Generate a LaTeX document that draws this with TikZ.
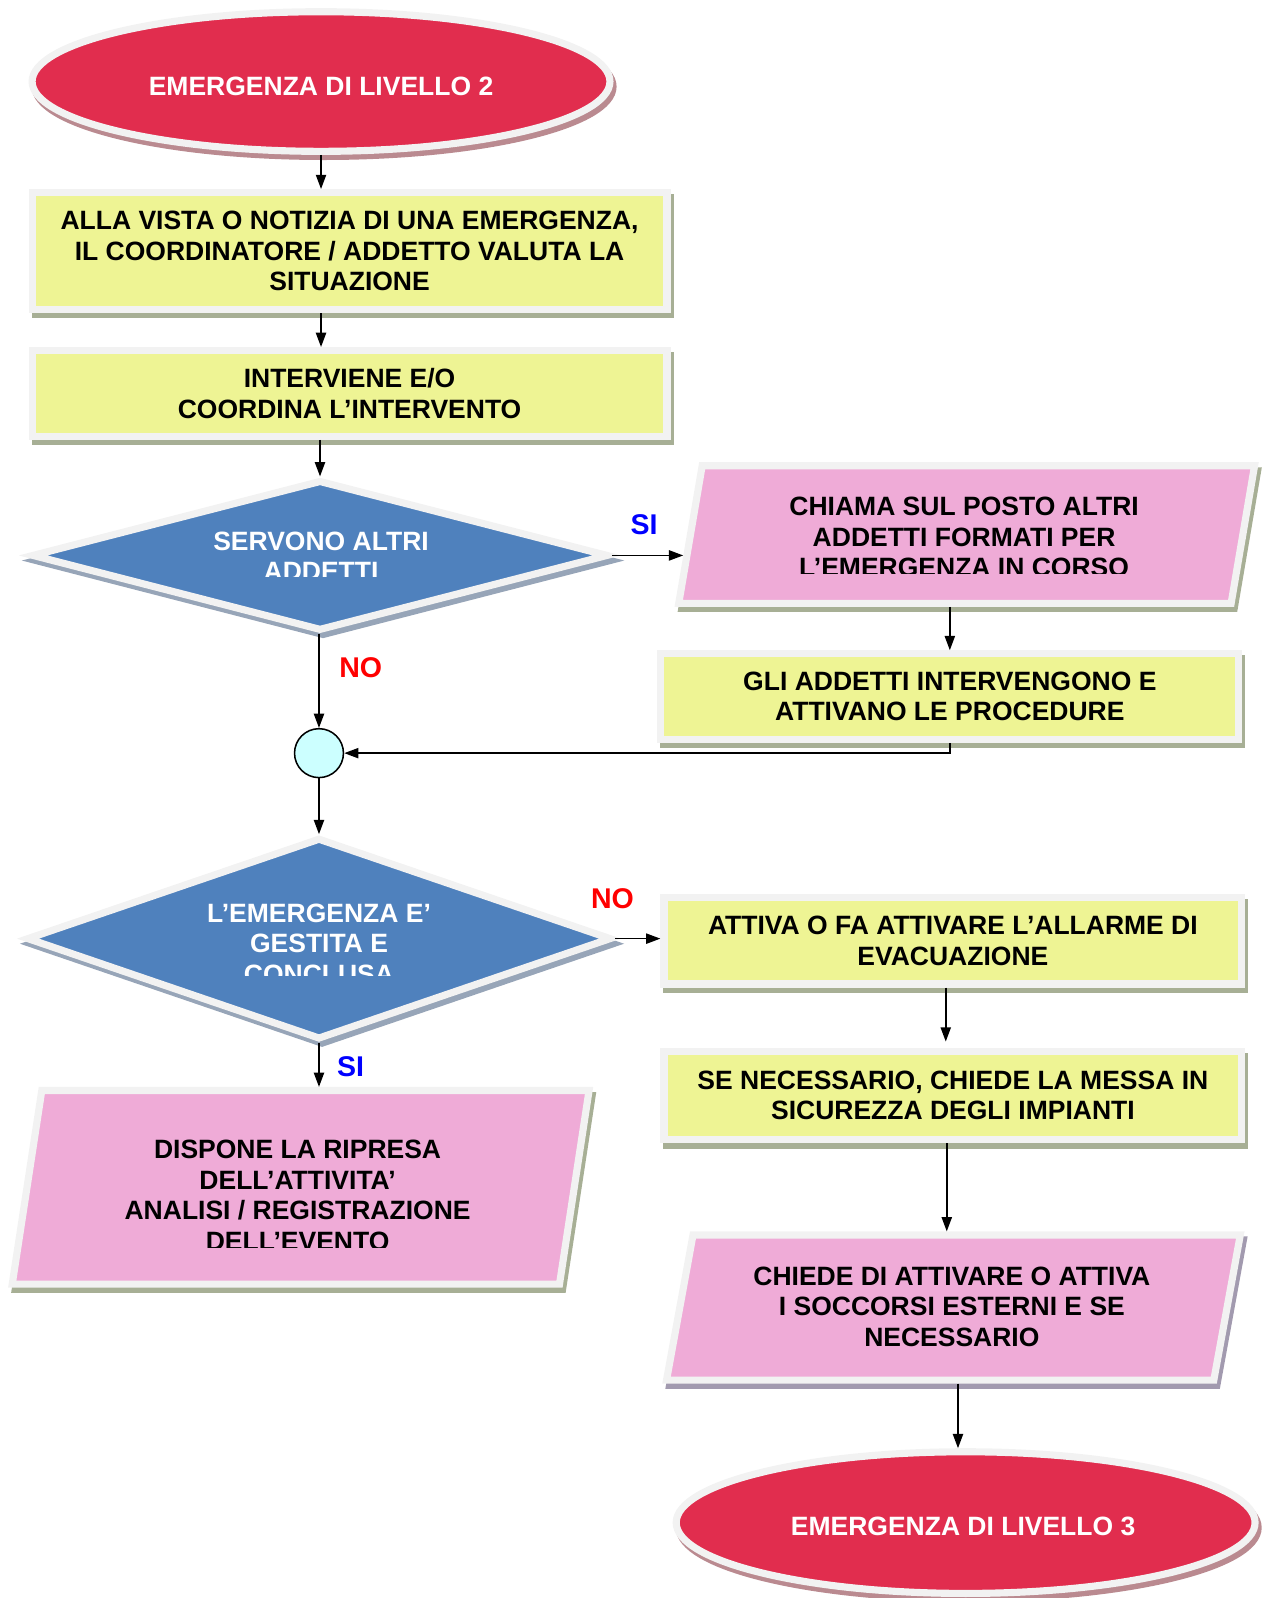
\documentclass[tikz,border=0pt]{standalone}
\usepackage{fontspec}
\setmainfont{Liberation Sans}
\usetikzlibrary{shapes.geometric,shadows,arrows.meta}
\definecolor{redE}{HTML}{E12D4E}
\definecolor{yelB}{HTML}{EEF494}
\definecolor{pinkP}{HTML}{EFABD7}
\definecolor{blueD}{HTML}{4F81BD}
\definecolor{cyanC}{HTML}{CCFFFF}
\definecolor{bord}{HTML}{F2F2F2}
\definecolor{shY}{HTML}{A7AF95}
\definecolor{shR}{HTML}{BA8A90}
\definecolor{shB}{HTML}{97A5B8}
\definecolor{shP}{HTML}{A29AAF}
\definecolor{siblue}{HTML}{0000FF}
\definecolor{nored}{HTML}{FF0000}
\newcommand{\boxfont}{\bfseries\fontsize{13}{15}\selectfont}
\newcommand{\labfont}{\bfseries\fontsize{14}{16}\selectfont}
\begin{document}
\begin{tikzpicture}[x=0.5pt,y=-0.5pt,
  shp/.style={draw=bord, line width=3.5pt, inner sep=0pt, font=\boxfont, align=center},
  shd/.style={drop shadow={shadow xshift=1.5pt, shadow yshift=-2.5pt, opacity=1, fill=#1, draw=#1, line width=3.5pt}},
  ebox/.style={shp, ellipse, fill=redE, shd=shR},
  ybox/.style={shp, rectangle, fill=yelB, shd=shY, minimum width=283.5pt},
  dbox/.style={shp, diamond, fill=blueD, shd=shB},
  pnode/.style={rectangle, inner sep=0pt, outer sep=0pt},
  pshape/.style={draw=bord, line width=3.5pt, fill=pinkP, line join=miter, shd=#1},
  txtw/.style={font=\boxfont, align=center, text=white, inner sep=0pt},
  txtk/.style={font=\boxfont, align=center, text=black, inner sep=0pt},
  arr/.style={draw=black, line width=0.8pt, -{Triangle[length=7pt,width=5pt]}},
  lab/.style={font=\labfont, inner sep=0pt}
]
\useasboundingbox (0,0) rectangle (1242,1568);

% ---- shapes ----
\node[ebox, minimum width=283.5pt, minimum height=68.5pt] (e1) at (315,80) {};
\node[txtw] (e1t) at (315,85) {EMERGENZA DI LIVELLO 2};

\node[ybox, minimum width=311.5pt, minimum height=57.5pt] (b1) at (343,246.5)
  {ALLA VISTA O NOTIZIA DI UNA EMERGENZA,\\IL COORDINATORE / ADDETTO VALUTA LA\\SITUAZIONE};

\node[ybox, minimum width=311.5pt, minimum height=42pt] (b2) at (343,386)
  {INTERVIENE E/O\\COORDINA L’INTERVENTO};

\node[dbox, minimum width=283pt, minimum height=74pt] (d1) at (314,545) {};
\begin{scope}
  \clip (0,450) rectangle (640,566);
  \node[txtw] (d1t) at (315,546) {SERVONO ALTRI\\ADDETTI};
\end{scope}

% parallelogram 1
\node[pnode, minimum width=282.5pt, minimum height=67.5pt] (p1) at (948.5,524.5) {};
\path[pshape=shY] ([xshift=11.5pt]p1.north west) -- (p1.north east)
   -- ([xshift=-11.5pt]p1.south east) -- (p1.south west) -- cycle;
\begin{scope}
  \clip (650,440) rectangle (1242,563);
  \node[txtk] (p1t) at (946,527) {CHIAMA SUL POSTO ALTRI\\ADDETTI FORMATI PER\\L’EMERGENZA IN CORSO};
\end{scope}

\node[ybox, minimum height=42pt] (b3) at (932,683.5)
  {GLI ADDETTI INTERVENGONO E\\ATTIVANO LE PROCEDURE};

\node[circle, draw=black, line width=0.75pt, fill=cyanC, minimum size=24pt, inner sep=0pt] (c1) at (313,739) {};

\node[dbox, minimum width=287pt, minimum height=99pt] (d2) at (313,921) {};
\begin{scope}
  \clip (0,810) rectangle (640,957);
  \node[txtw] (d2t) at (313,926) {L’EMERGENZA E’\\GESTITA E\\CONCLUSA};
\end{scope}

\node[ybox, minimum height=42.5pt] (b4) at (935,923)
  {ATTIVA O FA ATTIVARE L’ALLARME DI\\EVACUAZIONE};

\node[ybox, minimum height=43.5pt] (b5) at (935,1075)
  {SE NECESSARIO, CHIEDE LA MESSA IN\\SICUREZZA DEGLI IMPIANTI};

% parallelogram 2
\node[pnode, minimum width=281.5pt, minimum height=71.25pt] (p2) at (935.5,1283) {};
\path[pshape=shP] ([xshift=13pt]p2.north west) -- (p2.north east)
   -- ([xshift=-13pt]p2.south east) -- (p2.south west) -- cycle;
\node[txtk] (p2t) at (934,1282) {CHIEDE DI ATTIVARE O ATTIVA\\I SOCCORSI ESTERNI E SE\\NECESSARIO};

\node[ebox, minimum width=284pt, minimum height=69.5pt] (e2) at (947.5,1494) {};
\node[txtw] (e2t) at (945,1498) {EMERGENZA DI LIVELLO 3};

% parallelogram 3
\node[pnode, minimum width=283pt, minimum height=95pt] (p3) at (295,1165) {};
\path[pshape=shY] ([xshift=14.5pt]p3.north west) -- (p3.north east)
   -- ([xshift=-14.5pt]p3.south east) -- (p3.south west) -- cycle;
\begin{scope}
  \clip (0,1060) rectangle (640,1224);
  \node[txtk] (p3t) at (292,1173) {DISPONE LA RIPRESA\\DELL’ATTIVITA’\\ANALISI / REGISTRAZIONE\\DELL’EVENTO};
\end{scope}

% ---- labels ----
\node[lab, text=siblue] (si1) at (632,515) {SI};
\node[lab, text=nored] (no1) at (354,655) {NO};
\node[lab, text=nored] (no2) at (601,882) {NO};
\node[lab, text=siblue] (si2) at (344,1047) {SI};

% ---- connectors ----
\draw[arr] (e1.south) -- (e1.south |- b1.north);
\draw[arr] (b1.south -| e1.south) -- (e1.south |- b2.north);
\draw[arr] (b2.south -| d1.north) -- (d1.north);
\draw[arr, shorten >=-2.2pt] (d1.east) -- (d1.east -| p1.west);
\draw[arr, shorten <=1.75pt] (b3.north |- p1.south) -- (b3.north);
\draw[arr] (b3.south) |- (c1.east);
\draw[arr] (c1.north |- d1.south) -- (c1.north);
\draw[arr] (c1.south) -- (c1.south |- d2.north);
\draw[arr] (d2.east) -- (d2.east -| b4.west);
\draw[arr, shorten >=3pt] ([xshift=-3.5pt]b4.south) -- ([xshift=-3.5pt]b4.south |- b5.north);
\draw[arr, shorten >=1.75pt] ([xshift=-3pt]b5.south) -- ([xshift=-3pt]b5.south |- p2.north);
\draw[arr, shorten <=1.75pt] ([xshift=2.25pt]p2.south) -- ([xshift=2.25pt]p2.south |- e2.north);
\draw[arr, shorten >=1.75pt] (d2.south) -- (d2.south |- p3.north);
\end{tikzpicture}
\end{document}
